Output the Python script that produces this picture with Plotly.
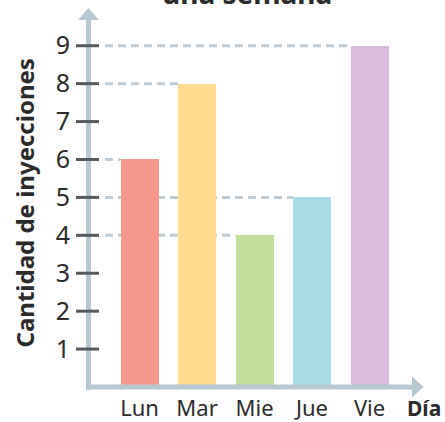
import plotly.graph_objects as go

# Data
days = ["Lun", "Mar", "Mie", "Jue", "Vie"]
injections = [6, 8, 4, 5, 9]
bar_colors = ["#f4978e", "#fddc8f", "#c1dd9c", "#a7dbe6", "#d9bbdb"]
y_ticks = [1, 2, 3, 4, 5, 6, 7, 8, 9]

# Figure geometry (pixels)
W, H = 445, 422
ML, MR, MT, MB = 88, 22, 9, 35
PW, PH = W - ML - MR, H - MT - MB
X_RANGE = [-0.896, -0.896 + PW / 57.5]
Y_RANGE = [0, PH / 37.92]
BAR_W = 0.66
GUIDE_START = X_RANGE[0] + 17 / 57.5

AXIS_COLOR = "#b8c8d0"
GUIDE_COLOR = "#bfccd5"
TICK_COLOR = "#58595b"
TEXT_COLOR = "#2b2b2b"
FONT = "Noto Sans"


def px(x):
    return (x - ML) / PW


def py(y):
    return (H - MB - y) / PH


fig = go.Figure(
    go.Bar(
        x=list(range(len(days))),
        y=injections,
        width=BAR_W,
        marker=dict(color=bar_colors, line=dict(width=0)),
        hoverinfo="x+y",
    )
)

shapes = []
# dashed guides from the axis to the left edge of each bar
for i, v in enumerate(injections):
    shapes.append(dict(
        type="line", xref="x", yref="y", layer="below",
        x0=GUIDE_START, x1=i - BAR_W / 2, y0=v, y1=v,
        line=dict(color=GUIDE_COLOR, width=3, dash="8px,5px"),
    ))

# axis lines with arrow heads
shapes.append(dict(type="line", xref="paper", yref="paper",
                   x0=px(88.5), x1=px(88.5), y0=py(390), y1=py(19),
                   line=dict(color=AXIS_COLOR, width=5)))
shapes.append(dict(type="path", xref="paper", yref="paper",
                   path=f"M {px(78)} {py(20)} L {px(99)} {py(20)} L {px(88.5)} {py(8)} Z",
                   fillcolor=AXIS_COLOR, line=dict(width=0)))
shapes.append(dict(type="line", xref="paper", yref="paper",
                   x0=px(86), x1=px(413), y0=py(387), y1=py(387),
                   line=dict(color=AXIS_COLOR, width=5)))
shapes.append(dict(type="path", xref="paper", yref="paper",
                   path=f"M {px(412)} {py(376.5)} L {px(412)} {py(397.5)} L {px(423.5)} {py(387)} Z",
                   fillcolor=AXIS_COLOR, line=dict(width=0)))

# tick marks crossing the y axis
for t in y_ticks:
    shapes.append(dict(type="line", xref="paper", yref="y",
                       x0=px(76), x1=px(99), y0=t, y1=t,
                       line=dict(color=TICK_COLOR, width=3)))

annotations = [
    dict(text="<b>Cantidad de inyecciones</b>", textangle=-90,
         xref="paper", yref="paper", x=px(24), y=py(203.5),
         xanchor="center", yanchor="middle", showarrow=False,
         font=dict(family=FONT, size=24, color=TEXT_COLOR)),
    dict(text="<b>Día</b>", xref="paper", yref="paper",
         x=px(424), y=py(408), xanchor="center", yanchor="middle",
         showarrow=False, font=dict(family=FONT, size=21, color=TEXT_COLOR)),
    dict(text="<b>una semana</b>", xref="paper", yref="paper",
         x=px(247), y=py(14), xanchor="center", yanchor="bottom",
         showarrow=False, font=dict(family=FONT, size=28, color=TEXT_COLOR)),
]

fig.update_layout(
    width=W, height=H, autosize=False,
    margin=dict(l=ML, r=MR, t=MT, b=MB, pad=0, autoexpand=False),
    paper_bgcolor="white", plot_bgcolor="white",
    showlegend=False, bargap=0,
    shapes=shapes, annotations=annotations,
    font=dict(family=FONT, color=TEXT_COLOR),
    xaxis=dict(range=X_RANGE, tickvals=list(range(len(days))), ticktext=days,
               showgrid=False, zeroline=False, showline=False, automargin=False,
               ticks="outside", ticklen=2, tickcolor="rgba(0,0,0,0)",
               tickfont=dict(family=FONT, size=22, color=TEXT_COLOR)),
    yaxis=dict(range=Y_RANGE, tickvals=y_ticks,
               showgrid=False, zeroline=False, showline=False, automargin=False,
               ticks="outside", ticklen=12, tickcolor="rgba(0,0,0,0)",
               tickfont=dict(family=FONT, size=25, color=TEXT_COLOR)),
)

fig.write_html("out.html")
